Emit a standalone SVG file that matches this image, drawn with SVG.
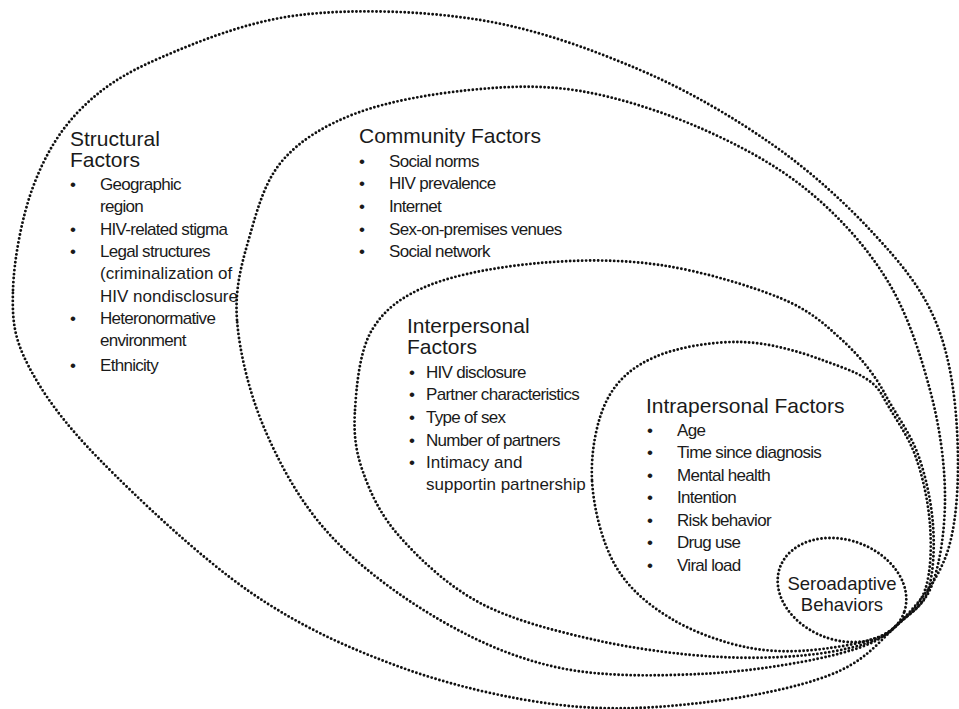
<svg xmlns="http://www.w3.org/2000/svg" width="959" height="709" viewBox="0 0 959 709">
<style>
.ring{fill:none;stroke:#111;stroke-width:2.9;stroke-dasharray:0 4;stroke-linecap:round}
text{font-family:"Liberation Sans",Arial,sans-serif;fill:#1a1a1a}
.h{font-size:21px}
.b{font-size:17px;letter-spacing:-0.7px}
.n{font-size:17px;letter-spacing:0}
.s{font-size:18.5px}
</style>
<rect width="959" height="709" fill="#fff"/>
<g id="connectors"></g>
<g id="structural">
<path class="ring" d="M13 290 C13.83 260.33 21.83 217 33 187 C44.17 157 58.83 131.5 80 110 C101.17 88.5 123.33 73.83 160 58 C196.67 42.17 246.67 21.33 300 15 C353.33 8.67 423.33 10.83 480 20 C536.67 29.17 591.17 49.17 640 70 C688.83 90.83 734.17 117.83 773 145 C811.83 172.17 846 203.830 873 233 C900 262.17 921 287.17 935 320 C949 352.83 954.83 391.67 957 430 C959.17 468.33 958.33 517.17 948 550 C937.67 582.83 915 607.4 895 627 C875 646.6 862.5 662.33 830 675 C797.5 687.67 745 698 700 703 C655 708 610 711 560 705 C510 699 451.67 685.83 400 667 C348.33 648.17 300 626.5 250 592 C200 557.5 137 497.83 100 460 C63 422.17 42.5 393.33 28 365 C13.5 336.67 12.17 319.67 13 290 Z"/>
<text class="h" x="70" y="146">Structural</text>
<text class="h" x="70" y="167">Factors</text>
<g class="b">
<text x="70" y="190">•</text><text x="100" y="190">Geographic</text>
<text x="100" y="212">region</text>
<text x="70" y="235">•</text><text x="100" y="235">HIV-related stigma</text>
<text x="70" y="257">•</text><text x="100" y="257">Legal structures</text>
<text class="n" x="100" y="279">(criminalization of</text>
<text class="n" x="100" y="302">HIV nondisclosure</text>
<text x="70" y="324">•</text><text x="100" y="324">Heteronormative</text>
<text x="100" y="346">environment</text>
<text x="70" y="371">•</text><text x="100" y="371">Ethnicity</text>
</g>
</g>
<g id="community">
<path class="ring" d="M237 320 C234.5 287.5 242.33 261.67 250 235 C257.67 208.33 265.17 180.33 283 160 C300.83 139.67 325.83 124.67 357 113 C388.17 101.33 432.83 93.67 470 90 C507.17 86.33 541.67 84.67 580 91 C618.33 97.33 662.17 111.5 700 128 C737.83 144.5 775.83 164.67 807 190 C838.17 215.33 866.5 246.67 887 280 C907.5 313.33 920.33 354.17 930 390 C939.67 425.83 944.67 462.5 945 495 C945.33 527.5 940.33 563 932 585 C923.67 607 909.3 613 895 627 C880.7 641 862.5 648.17 830 656 C797.5 663.83 745 672 700 674 C655 676 603.33 677 560 668 C516.67 659 478.33 642.17 440 620 C401.67 597.83 359.17 566.67 330 535 C300.83 503.33 280.5 465.83 265 430 C249.5 394.17 239.5 352.5 237 320 Z"/>
<text class="h" x="359" y="143">Community Factors</text>
<g class="b">
<text x="359" y="167">•</text><text x="389" y="167">Social norms</text>
<text x="359" y="189">•</text><text x="389" y="189">HIV prevalence</text>
<text x="359" y="212">•</text><text x="389" y="212">Internet</text>
<text x="359" y="235">•</text><text x="389" y="235">Sex-on-premises venues</text>
<text x="359" y="257">•</text><text x="389" y="257">Social network</text>
</g>
</g>
<g id="interpersonal">
<path class="ring" d="M355 410 C356.5 386.33 359.5 350.83 372 330 C384.5 309.17 402 296.17 430 285 C458 273.83 501.67 266.33 540 263 C578.33 259.67 620 259.17 660 265 C700 270.83 749.67 285.5 780 298 C810.33 310.5 824.55 324.07 842 340 C859.45 355.93 874.7 374.6 884.7 393.6 C894.7 412.6 909.8 432.33 917.8 454 C925.8 475.67 931.33 502.3 933 524.8 C934.67 547.3 933.63 574 927.8 591 C921.97 608 908 614.3 895 627 C882 639.7 859.17 647 830 652 C800.83 657 759.17 659 720 657 C680.83 655 635 649 595 640 C555 631 512.5 620.17 480 603 C447.5 585.83 419.5 558.83 400 537 C380.5 515.17 370.5 493.17 363 472 C355.5 450.83 353.5 433.67 355 410 Z"/>
<text class="h" x="407" y="333">Interpersonal</text>
<text class="h" x="407" y="354">Factors</text>
<g class="b">
<text x="409" y="378">•</text><text x="426" y="378">HIV disclosure</text>
<text x="409" y="400">•</text><text x="426" y="400">Partner characteristics</text>
<text x="409" y="423">•</text><text x="426" y="423">Type of sex</text>
<text x="409" y="446">•</text><text x="426" y="446">Number of partners</text>
<text x="409" y="468">•</text><text class="n" x="426" y="468">Intimacy and</text>
<text class="n" x="426" y="490">supportin partnership</text>
</g>
</g>
<g id="intrapersonal">
<path class="ring" d="M592 480 C590.67 452.5 596.5 420.5 607 400 C617.5 379.5 632.83 366.67 655 357 C677.17 347.33 712.17 341.5 740 342 C767.83 342.5 798.33 351.17 822 360 C845.67 368.83 872 376 882 395 C892 414 907 433.33 915 455 C923 476.67 928.33 502.5 930 525 C931.67 547.5 930.83 573 925 590 C919.17 607 908 614.3 895 627 C882 639.7 854.17 644.5 830 648 C805.83 651.5 776.67 653 750 648 C723.33 643 692.5 631.83 670 618 C647.5 604.17 628 588 615 565 C602 542 593.33 507.5 592 480 Z"/>
<text class="h" x="646" y="413">Intrapersonal Factors</text>
<g class="b">
<text x="647" y="436">•</text><text x="677" y="436">Age</text>
<text x="647" y="458">•</text><text x="677" y="458">Time since diagnosis</text>
<text x="647" y="481">•</text><text x="677" y="481">Mental health</text>
<text x="647" y="503">•</text><text x="677" y="503">Intention</text>
<text x="647" y="526">•</text><text x="677" y="526">Risk behavior</text>
<text x="647" y="548">•</text><text x="677" y="548">Drug use</text>
<text x="647" y="571">•</text><text x="677" y="571">Viral load</text>
</g>
</g>
<g id="seroadaptive">
<ellipse class="ring" cx="842" cy="590" rx="66" ry="50" transform="rotate(20 842 590)"/>
<text class="s" x="842" y="590" text-anchor="middle">Seroadaptive</text>
<text class="s" x="842" y="611" text-anchor="middle">Behaviors</text>
</g>
</svg>
